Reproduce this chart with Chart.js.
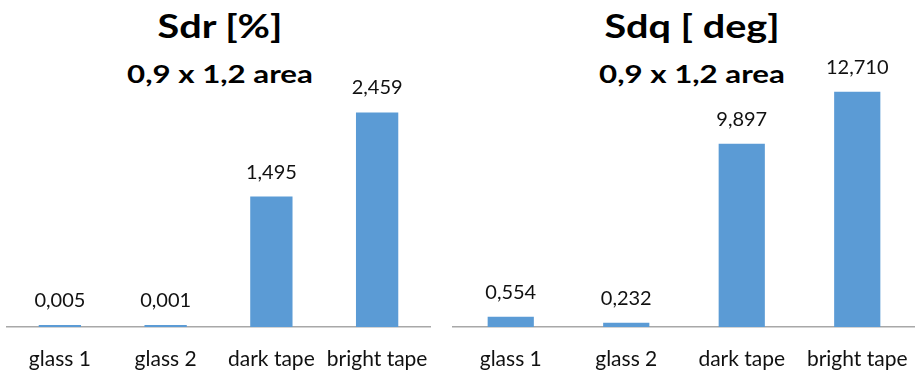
<!DOCTYPE html>
<html>
<head>
<meta charset="utf-8">
<script src="https://cdn.jsdelivr.net/npm/chart.js@4/dist/chart.umd.min.js"></script>
<style>
  html, body { margin: 0; padding: 0; background: #fff; }
  body { width: 915px; height: 371px; position: relative; overflow: hidden; font-family: Lato, sans-serif; }
  .t { position: absolute; font-family: Lato, sans-serif; font-weight: bold; color: #000; white-space: nowrap; }
  .t1 { font-size: 33px; line-height: 33px; top: 9px; transform: translateX(-50%) scaleX(1.2); }
  .t2 { font-size: 25px; line-height: 25px; top: 61px; transform: translateX(-50%) scaleX(1.25); }
  canvas { position: absolute; top: 0; }
</style>
</head>
<body>
<div class="t t1" style="left:220px">Sdr [%]</div>
<div class="t t2" style="left:220px">0,9 x 1,2 area</div>
<div class="t t1" style="left:692px">Sdq [ deg]</div>
<div class="t t2" style="left:692px">0,9 x 1,2 area</div>
<canvas id="c1" width="440" height="371" style="left:0px"></canvas>
<canvas id="c2" width="470" height="371" style="left:445px"></canvas>
<script>
const categories = ["glass 1", "glass 2", "dark tape", "bright tape"];
const sdrValues = [0.005, 0.001, 1.495, 2.459];
const sdqValues = [0.554, 0.232, 9.897, 12.710];

const barColor = "#5b9bd5";
const textColor = "#111111";

const valueLabels = {
  id: "valueLabels",
  afterDatasetsDraw(chart) {
    const ctx = chart.ctx;
    ctx.save();
    ctx.font = "20px Lato, sans-serif";
    ctx.fillStyle = textColor;
    ctx.textAlign = "center";
    ctx.textBaseline = "alphabetic";
    chart.data.datasets.forEach((ds, di) => {
      chart.getDatasetMeta(di).data.forEach((bar, i) => {
        const txt = Number(ds.data[i]).toFixed(3).replace(".", ",");
        ctx.fillText(txt, bar.x, bar.y - 18);
      });
    });
    ctx.restore();
  }
};

function makeChart(id, values, yMax, padLeft, padRight) {
  return new Chart(document.getElementById(id), {
    type: "bar",
    data: {
      labels: categories,
      datasets: [{
        data: values,
        backgroundColor: barColor,
        borderWidth: 0,
        barPercentage: 0.4,
        categoryPercentage: 1,
        minBarLength: 2
      }]
    },
    options: {
      responsive: false,
      animation: false,
      events: [],
      layout: { padding: { top: 60, bottom: 0, left: padLeft, right: padRight } },
      plugins: { legend: { display: false }, tooltip: { enabled: false }, title: { display: false } },
      scales: {
        x: {
          grid: { display: false, drawTicks: false },
          border: { display: true, color: "#a8a8a8", width: 1.5 },
          ticks: { color: textColor, font: { family: "Lato, sans-serif", size: 21 }, padding: 20, maxRotation: 0, autoSkip: false },
          afterFit(scale) {
            scale.height = 44;
            scale.paddingLeft = 0;
            scale.paddingRight = 0;
          }
        },
        y: { display: false, min: 0, max: yMax }
      }
    },
    plugins: [valueLabels]
  });
}

makeChart("c1", sdrValues, 3.06, 7, 10);
makeChart("c2", sdqValues, 14.43, 8, 0);
</script>
</body>
</html>
